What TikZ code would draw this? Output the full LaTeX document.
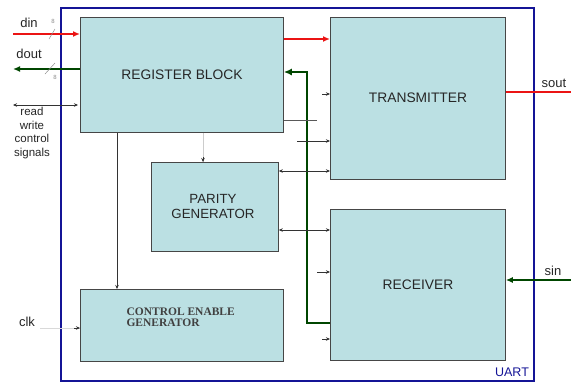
\documentclass[tikz,border=0pt]{standalone}
\usepackage{fontspec}
\setmainfont{Liberation Sans}
\newfontfamily\serifx{Liberation Serif}
\usetikzlibrary{arrows.meta,calc}
\definecolor{boxfill}{RGB}{187,224,227}
\definecolor{boxline}{RGB}{70,70,70}
\definecolor{uartblue}{RGB}{20,20,150}
\definecolor{sigred}{RGB}{235,20,20}
\definecolor{busgreen}{RGB}{0,70,0}
\tikzset{
  blk/.style={draw=boxline, fill=boxfill, line width=0.8pt, anchor=north west, inner sep=0pt},
  lbl/.style={font=\fontsize{13.8}{16}\selectfont, text=black!85, align=center},
  sig/.style={font=\fontsize{13}{15}\selectfont, text=black!85},
  thin/.style={line width=0.6pt, draw=black!80},
  tip/.style={-{Stealth[length=4pt,width=3.5pt]}},
  btip/.style={{Stealth[length=4pt,width=3.5pt]}-{Stealth[length=4pt,width=3.5pt]}},
  redsig/.style={draw=sigred, line width=1.6pt},
  greensig/.style={draw=busgreen, line width=1.6pt},
  bigtip/.style={-{Latex[length=7pt,width=6pt]}},
}
\begin{document}
\begin{tikzpicture}[x=1pt,y=-1pt]
\useasboundingbox (0,0) rectangle (571,383);
% outer UART box
\node[draw=uartblue, line width=1.6pt, anchor=north west, minimum width=473pt, minimum height=373pt, inner sep=0pt] (uart) at (60,7) {};
\node[font=\fontsize{12.5}{14}\selectfont, text=uartblue] (uartlbl) at (512,372) {UART};
% blocks
\node[blk, minimum width=203pt, minimum height=115pt] (reg) at (80,17) {};
\node[blk, minimum width=175pt, minimum height=162pt] (tx) at (330,17) {};
\node[blk, minimum width=175pt, minimum height=151pt] (rcv) at (330,209) {};
\node[blk, minimum width=127pt, minimum height=89pt] (par) at (151,162) {};
\node[blk, minimum width=203pt, minimum height=72pt] (ctl) at (80,289) {};
% block labels
\node[lbl] (regt) at (182,75) {REGISTER BLOCK};
\node[lbl] (txt) at (418,98) {TRANSMITTER};
\node[lbl] (rcvt) at (418,285) {RECEIVER};
\node[lbl, font=\fontsize{13.3}{15}\selectfont] (part) at (213,206) {PARITY\\GENERATOR};
\node[anchor=west, align=left, font=\serifx\bfseries\fontsize{11.5}{11.5}\selectfont, text=black!75] (ctlt) at (123,317) {CONTROL ENABLE\\GENERATOR};
% left side signals
\node[sig] (din) at (29,23) {din};
\node[sig] (dout) at (29,54) {dout};
\node[font=\fontsize{11.5}{13.5}\selectfont, text=black!85, align=center] (rw) at (32,133) {read\\write\\control\\signals};
\node[sig] (clk) at (27,322) {clk};
\coordinate (dinS) at (13,34);
\coordinate (doutE) at (13,69);
\coordinate (rwA) at (13,105);
\coordinate (rwB) at (78,105);
\draw[redsig, bigtip] (dinS) -- (reg.west |- dinS);
\draw[greensig, bigtip] (reg.west |- doutE) -- (doutE);
\draw[thin, btip] (rwA) -- (rwB);
% bus width slashes
\draw[black!45, line width=0.5pt] (49,39) -- (55,29);
\node[font=\fontsize{6}{7}\selectfont, text=black!45] (n1) at (53,21) {8};
\draw[black!45, line width=0.5pt] (45,74) -- (55,63);
\node[font=\fontsize{6}{7}\selectfont, text=black!45] (n2) at (55,77) {8};
% clk
\coordinate (clkA) at (40,328);
\draw[black!15, line width=0.4pt] (clkA) -- (ctl.west |- clkA);
\draw[thin, tip] (74,328) -- (ctl.west |- clkA);
% register -> control enable
\coordinate (rc) at (117,0);
\draw[thin, tip] (rc |- reg.south) -- (rc |- ctl.north);
% register -> parity (faint)
\coordinate (rp) at (203,0);
\draw[black!20, line width=0.4pt] (rp |- reg.south) -- (rp |- par.north);
\draw[thin, tip] (203,157) -- (rp |- par.north);
% register -> transmitter red
\coordinate (rt) at (0,39);
\draw[redsig, bigtip] (reg.east |- rt) -- (tx.west |- rt);
% green bus
\coordinate (busb) at (307,323);
\coordinate (bust) at (307,72);
\draw[draw=busgreen, line width=2.4pt, -{Latex[length=8pt,width=7pt]}] (rcv.west |- busb) -- (busb) -- (bust) -- (reg.east |- bust);
% small arrows into transmitter
\coordinate (t1) at (322,94);
\draw[thin, tip] (t1) -- (tx.west |- t1);
\coordinate (t2) at (317,120);
\draw[line width=0.6pt, draw=black!65] (reg.east |- t2) -- (t2);
\coordinate (t3) at (297,141);
\draw[thin, tip] (t3) -- (tx.west |- t3);
\coordinate (t4) at (0,171);
\draw[thin, btip] (par.east |- t4) -- (tx.west |- t4);
% receiver
\coordinate (r1) at (0,230);
\draw[thin, btip] (par.east |- r1) -- (rcv.west |- r1);
\coordinate (r2) at (317,272);
\draw[thin, tip] (r2) -- (rcv.west |- r2);
\coordinate (r3) at (322,339);
\draw[thin, tip] (r3) -- (rcv.west |- r3);
% right side
\coordinate (soutE) at (571,92);
\draw[redsig] (tx.east |- soutE) -- (soutE);
\node[sig] (sout) at (554,83) {sout};
\coordinate (sinS) at (571,280);
\draw[greensig, bigtip] (sinS) -- (rcv.east |- sinS);
\node[sig] (sin) at (553,271) {sin};
\end{tikzpicture}
\end{document}
